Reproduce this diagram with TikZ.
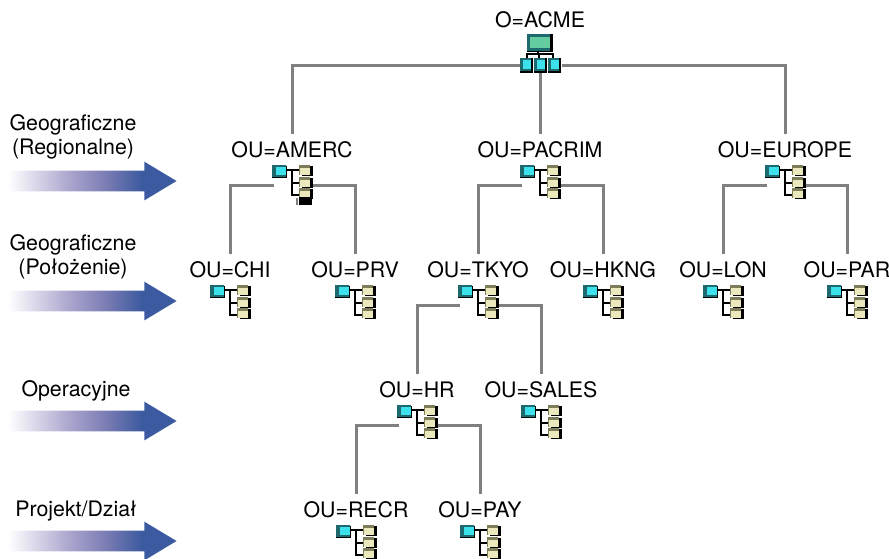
\documentclass[tikz,border=0pt]{standalone}
\usepackage{fontspec}
\setmainfont{TeX Gyre Heros}
\usetikzlibrary{positioning,shapes.arrows}

\definecolor{linkgrey}{RGB}{128,128,128}
\definecolor{arrowblue}{RGB}{59,90,160}
\definecolor{arrowmid}{RGB}{170,165,205}
\definecolor{arrowmix}{RGB}{120,122,178}
\definecolor{iconcyan}{RGB}{60,225,235}
\definecolor{iconteal}{RGB}{30,105,110}
\definecolor{icongreen}{RGB}{100,205,160}
\definecolor{iconbeige}{RGB}{235,232,190}
\definecolor{iconolive}{RGB}{125,125,90}
\pgfdeclarehorizontalshading{arrowfade}{100bp}{color(0bp)=(white); color(26bp)=(white); color(44bp)=(arrowmid); color(55bp)=(arrowmix); color(65bp)=(arrowblue); color(100bp)=(arrowblue)}

\tikzset{
  every node/.style={font=\fontsize{16}{18}\selectfont, align=center},
  ou/.style={inner sep=0pt, outer sep=6pt},
  link/.style={draw=linkgrey, line width=2.25pt},
  levelarrow/.style={single arrow, shading=arrowfade, minimum height=129pt, minimum width=28.5pt,
    single arrow head extend=6.75pt, single arrow tip angle=62, inner xsep=0pt, inner ysep=7.5pt},
  wire/.style={draw=black, line width=1.5pt},
  smallbox/.pic={
    \fill [black] (3,1) rectangle (14,11);
    \fill [iconolive] (0,0) rectangle (11,10);
    \fill [iconbeige] (1,3) rectangle (11,10);
  },
  outree/.pic={
    \fill [white] (-18,-22) rectangle (21,14);
    \draw [wire] (-6,-15) -- (7,-15) (0,-15) -- (0,10) -- (7,10) (0,-2) -- (7,-2);
    \fill [black] (-20,-19) rectangle (-5,-7);
    \fill [iconteal] (-20,-20) rectangle (-6,-8);
    \fill [iconcyan] (-16,-18) rectangle (-6,-10);
    \pic at (7,-20) {smallbox};
    \pic at (7,-8) {smallbox};
    \pic at (7,3) {smallbox};
  },
  cyanbox/.pic={
    \fill [black] (0,0) rectangle (13,15);
    \fill [iconteal] (0,0) rectangle (11,13);
    \fill [iconcyan] (3,2) rectangle (11,11);
  },
  orgtree/.pic={
    \fill [white] (-20,-32) rectangle (22,7);
    \fill [black] (-13,-31) rectangle (13,-13);
    \fill [iconteal] (-13,-31) rectangle (10,-14);
    \fill [icongreen] (-10,-28) rectangle (10,-17);
    \draw [wire] (-2,-14) -- (-2,-11) (-13,-7) -- (-13,-11) -- (13,-11) -- (13,-7) (-1,-11) -- (-1,-7);
    \pic at (-20,-7) {cyanbox};
    \pic at (-6,-7) {cyanbox};
    \pic at (8,-7) {cyanbox};
  }
}

\begin{document}
\begin{tikzpicture}[x=0.75pt, y=-0.75pt, on grid]
  \useasboundingbox (0,0) rectangle (889,558);

  % tree of units
  \node [ou] (acme) at (540,20) {O=ACME};
  \node [ou, below left=97.5pt and 186pt of acme] (amerc) {OU=AMERC};
  \node [ou, below=97.5pt of acme] (pacrim) {OU=PACRIM};
  \node [ou, below right=97.5pt and 183.75pt of acme] (europe) {OU=EUROPE};

  \node [ou, below left=90pt and 46.5pt of amerc] (chi) {OU=CHI};
  \node [ou, below right=90pt and 47.25pt of amerc] (prv) {OU=PRV};
  \node [ou, below left=90pt and 46.5pt of pacrim] (tkyo) {OU=TKYO};
  \node [ou, below right=90pt and 47.25pt of pacrim] (hkng) {OU=HKNG};
  \node [ou, below left=90pt and 46.5pt of europe] (lon) {OU=LON};
  \node [ou, below right=90pt and 46.5pt of europe] (par) {OU=PAR};

  \node [ou, below left=90pt and 45.75pt of tkyo] (hr) {OU=HR};
  \node [ou, below right=90pt and 47.25pt of tkyo] (sales) {OU=SALES};
  \node [ou, below left=90pt and 45.75pt of hr] (recr) {OU=RECR};
  \node [ou, below right=90pt and 47.25pt of hr] (pay) {OU=PAY};

  % points the links leave from
  \coordinate [below=33.75pt of acme] (acme-i);
  \foreach \ou in {amerc,pacrim,europe,chi,prv,tkyo,hkng,lon,par,hr,sales,recr,pay}
    \coordinate [below=26.25pt of \ou] (\ou-i);

  \draw [link] (acme-i) -| (amerc);
  \draw [link] (acme-i) -- (pacrim);
  \draw [link] (acme-i) -| (europe);
  \draw [link] (amerc-i) -| (chi);
  \draw [link] (amerc-i) -| (prv);
  \draw [link] (pacrim-i) -| (tkyo);
  \draw [link] (pacrim-i) -| (hkng);
  \draw [link] (europe-i) -| (lon);
  \draw [link] (europe-i) -| (par);
  \draw [link] (tkyo-i) -| (hr);
  \draw [link] (tkyo-i) -| (sales);
  \draw [link] (hr-i) -| (recr);
  \draw [link] (hr-i) -| (pay);

  \pic at (acme-i) {orgtree};
  \foreach \ou in {amerc,pacrim,europe,chi,prv,tkyo,hkng,lon,par,hr,sales,recr,pay}
    \pic at (\ou-i) {outree};
  \fill [black] (299,197) rectangle (312,205);
  \fill [linkgrey] (296,198) rectangle (298,205);

  % levels on the left
  \node [levelarrow] (regional) at (82,181) {};
  \node [levelarrow] (location) at (82,301) {};
  \node [levelarrow] (operation) at (82,421) {};
  \node [levelarrow] (project) at (82,541) {};

  \node [above left=33pt and 6.75pt of regional] (regionaltext) {Geograficzne\\(Regionalne)};
  \node [above left=33pt and 6.75pt of location] (locationtext) {Geograficzne\\(Położenie)};
  \node [above left=22.5pt and 4.5pt of operation] (operationtext) {Operacyjne};
  \node [above left=22.5pt and 4.5pt of project] (projecttext) {Projekt/Dział};
\end{tikzpicture}
\end{document}
